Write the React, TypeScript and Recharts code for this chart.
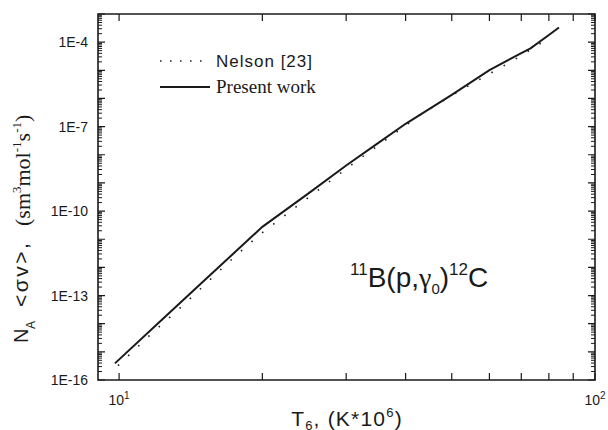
import { LineChart, Line, XAxis, YAxis, Customized } from 'recharts'

// present work: T6 and N_A<σv>
const presentT = [9.8, 12, 15, 20, 25, 30, 35, 40, 50, 60, 70, 73.2, 80, 84]
const presentRate = [3.9e-16, 9.3e-15, 3.1e-13, 2.75e-11, 4.27e-10, 4.17e-9, 2.6e-8, 1.26e-7, 1.35e-6, 1.02e-5, 4.07e-5, 6.0e-5, 1.8e-4, 3.3e-4]

// Nelson [23], dotted curve
const nelsonT = [9.95, 11.6, 13.6, 16.8, 19.7, 23, 26.9, 31.5, 36.9, 43.2, 50.5, 56.2, 62.5, 69.4, 73.2, 76.9, 81.1]
const nelsonRate = [3.24e-16, 3.89e-15, 4.37e-14, 1.29e-12, 1.41e-11, 1.05e-10, 7.76e-10, 5.89e-9, 4.07e-8, 2.82e-7, 1.41e-6, 3.98e-6, 1.1e-5, 3.02e-5, 5.37e-5, 9.12e-5, 1.45e-4]

const xTicks = [10, 20, 30, 40, 50, 60, 70, 80, 90, 100]
const xTickLabels: Record<number, string> = { 10: '1', 100: '2' }
const yDecades = [-16, -15, -14, -13, -12, -11, -10, -9, -8, -7, -6, -5, -4, -3]
const yMinorMult = [2, 3, 4, 5, 6, 7, 8, 9]
const yLabelled = [-16, -13, -10, -7, -4]

const X_DOMAIN = [9.03, 100]
const Y_DOMAIN = [1e-16, 1e-3]

const presentData = presentT.map((t, i) => ({ t, rate: presentRate[i] }))
const nelsonData = nelsonT.map((t, i) => ({ t, rate: nelsonRate[i] }))

const yMajor = yDecades.map((d) => Number(`1e${d}`))
const yMinor: number[] = []
yDecades.forEach((d) => {
  if (d < -3) yMinorMult.forEach((m) => yMinor.push(Number(`${m}e${d}`)))
})
const yLabelTicks = yLabelled.map((d) => Number(`1e${d}`))

const ARIAL = 'Liberation Sans, Arial, sans-serif'
const TIMES = 'Liberation Serif, Times New Roman, serif'
const INK = '#1a1a1a'

// plot box, from the chart margins and axis sizes below
const MARGIN = { top: 4, right: 3, bottom: 20, left: 38 }
const Y_AXIS_W = 60
const X_AXIS_H = 30
const TOP_H = 10
const RIGHT_W = 10
const CW = 608
const CH = 430
const box = {
  left: MARGIN.left + Y_AXIS_W,
  right: CW - MARGIN.right - RIGHT_W,
  top: MARGIN.top + TOP_H,
  bottom: CH - MARGIN.bottom - X_AXIS_H,
}
const lx = (t: number) =>
  box.left + ((Math.log10(t) - Math.log10(X_DOMAIN[0])) / (Math.log10(X_DOMAIN[1]) - Math.log10(X_DOMAIN[0]))) * (box.right - box.left)
const ly = (v: number) =>
  box.bottom - ((Math.log10(v) - Math.log10(Y_DOMAIN[0])) / (Math.log10(Y_DOMAIN[1]) - Math.log10(Y_DOMAIN[0]))) * (box.bottom - box.top)

function LeftLabel(props: any) {
  const { x, y, payload } = props
  const exp = Math.round(Math.log10(payload.value))
  return (
    <text x={x - 10} y={y + 5} textAnchor="end" fontFamily={ARIAL} fontSize={14} fill={INK} stroke="none">
      {`1E${exp}`}
    </text>
  )
}

function BottomLabel(props: any) {
  const { x, y, payload } = props
  const sup = xTickLabels[payload.value]
  if (!sup) return <g />
  return (
    <text x={x} y={y + 25} textAnchor="middle" fontFamily={ARIAL} fontSize={14} fill={INK} stroke="none">
      10<tspan fontSize={10} dy={-6}>{sup}</tspan>
    </text>
  )
}

const framePaths = () => {
  const major: string[] = []
  const minor: string[] = []
  xTicks.forEach((t) => {
    const x = lx(t)
    major.push(`M${x},${box.bottom}V${box.bottom - 7}`, `M${x},${box.top}V${box.top + 7}`)
  })
  yMajor.forEach((v) => {
    const y = ly(v)
    major.push(`M${box.left},${y}H${box.left + 7}`, `M${box.right},${y}H${box.right - 7}`)
  })
  yMinor.forEach((v) => {
    const y = ly(v)
    minor.push(`M${box.left},${y}H${box.left + 4}`, `M${box.right},${y}H${box.right - 4}`)
  })
  return { major: major.join(' '), minor: minor.join(' ') }
}

// frame with inward ticks on all four sides
const FrameLayer = () => {
  const { major, minor } = framePaths()
  return (
    <>
      <path d={minor} stroke={INK} strokeWidth={1} fill="none" />
      <path d={major} stroke={INK} strokeWidth={1.2} fill="none" />
      <path
        d={`M${box.left},${box.top}H${box.right}V${box.bottom}H${box.left}Z`}
        stroke={INK}
        strokeWidth={1.6}
        fill="none"
      />
    </>
  )
}

const Annotations = () => (
  <g>
    {/* legend */}
    <line x1={160} y1={61} x2={207} y2={61} stroke={INK} strokeWidth={1.6} strokeDasharray="1.5 8.5" />
    <text x={216} y={67} fontFamily={ARIAL} fontSize={17} letterSpacing={1} fill={INK}>{'Nelson  [23]'}</text>
    <line x1={160} y1={87} x2={210} y2={87} stroke={INK} strokeWidth={2} />
    <text x={216} y={93} fontFamily={TIMES} fontSize={19} fill={INK}>Present work</text>

    {/* reaction */}
    <text x={350} y={287} fontFamily={ARIAL} fontSize={28} fill={INK}>
      <tspan fontSize={17} dy={-12}>11</tspan>
      <tspan dy={12}>B(p,</tspan>
      <tspan fontFamily={TIMES}>γ</tspan>
      <tspan fontSize={15} dy={7}>0</tspan>
      <tspan dy={-7}>)</tspan>
      <tspan fontSize={17} dy={-12}>12</tspan>
      <tspan dy={12}>C</tspan>
    </text>

    {/* y title, written upwards */}
    <text x={28} y={343} transform="rotate(-90 28 343)" fill={INK} fontFamily={ARIAL} fontSize={20}>N</text>
    <text x={35} y={329} transform="rotate(-90 35 329)" fill={INK} fontFamily={ARIAL} fontSize={12}>A</text>
    <text x={28} y={307} transform="rotate(-90 28 307)" fill={INK} fontFamily={ARIAL} fontSize={21}
      letterSpacing={2.5}>{'<σv>,'}</text>
    <text x={30} y={226} transform="rotate(-90 30 226)" fill={INK} fontFamily={TIMES} fontSize={22}>
      <tspan>(sm</tspan>
      <tspan fontSize={13} dy={-9}>3</tspan>
      <tspan dy={9}>mol</tspan>
      <tspan fontSize={13} dy={-9}>-1</tspan>
      <tspan dy={9}>s</tspan>
      <tspan fontSize={13} dy={-9}>-1</tspan>
      <tspan dy={9}>)</tspan>
    </text>

    {/* x title */}
    <text x={347} y={426} textAnchor="middle" fill={INK} fontFamily={ARIAL} fontSize={21} letterSpacing={1.2}>
      <tspan>T</tspan>
      <tspan fontSize={13} dy={4}>6</tspan>
      <tspan dy={-4}>, (K*10</tspan>
      <tspan fontSize={13} dy={-9}>6</tspan>
      <tspan dy={9}>)</tspan>
    </text>
  </g>
)

export default function App() {
  return (
    <div style={{ position: 'absolute', left: 0, top: 0, width: CW, height: CH, background: '#fff' }}>
      <LineChart width={CW} height={CH} margin={MARGIN}>
        <XAxis
          type="number"
          dataKey="t"
          scale="log"
          domain={X_DOMAIN}
          allowDataOverflow
          ticks={xTicks}
          interval={0}
          height={X_AXIS_H}
          tickSize={0}
          tickMargin={0}
          axisLine={false}
          tickLine={false}
          tick={<BottomLabel />}
        />
        <XAxis
          xAxisId="top"
          orientation="top"
          type="number"
          scale="log"
          domain={X_DOMAIN}
          allowDataOverflow
          height={TOP_H}
          axisLine={false}
          tickLine={false}
          tick={false}
        />
        <YAxis
          type="number"
          scale="log"
          domain={Y_DOMAIN}
          allowDataOverflow
          ticks={yLabelTicks}
          interval={0}
          width={Y_AXIS_W}
          tickSize={0}
          tickMargin={0}
          axisLine={false}
          tickLine={false}
          tick={<LeftLabel />}
        />
        <YAxis
          yAxisId="right"
          orientation="right"
          type="number"
          scale="log"
          domain={Y_DOMAIN}
          allowDataOverflow
          width={RIGHT_W}
          axisLine={false}
          tickLine={false}
          tick={false}
        />
        <Line
          data={nelsonData}
          dataKey="rate"
          type="linear"
          stroke={INK}
          strokeWidth={1.6}
          strokeDasharray="1.5 12.5"
          dot={false}
          isAnimationActive={false}
        />
        <Line
          data={presentData}
          dataKey="rate"
          type="linear"
          stroke={INK}
          strokeWidth={2}
          dot={false}
          isAnimationActive={false}
        />
        <Customized component={Annotations} />
      </LineChart>
      {/* frame layer kept outside the chart svg */}
      <svg width={CW} height={CH} style={{ position: 'absolute', left: 0, top: 0, pointerEvents: 'none' }}>
        <FrameLayer />
      </svg>
    </div>
  )
}
